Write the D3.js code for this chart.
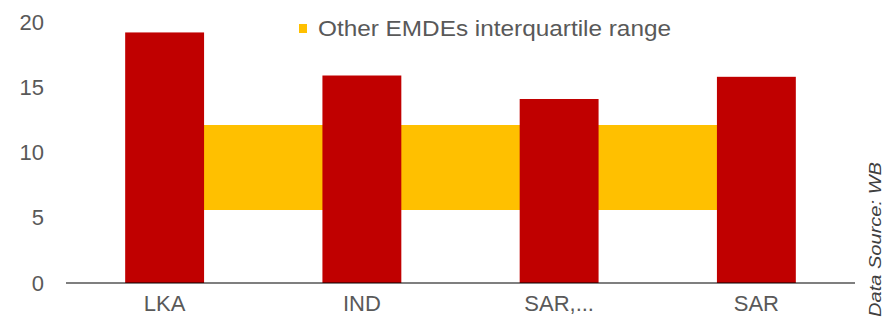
<!DOCTYPE html>
<html>
<head>
<meta charset="utf-8">
<script src="https://cdn.jsdelivr.net/npm/d3@7"></script>
<style>
  html, body { margin: 0; padding: 0; background: #fff; }
  svg { display: block; }
  text { font-family: "Liberation Sans", Arial, sans-serif; }
</style>
</head>
<body>
<svg id="chart" width="883" height="320"></svg>
<script>
const categories = ["LKA", "IND", "SAR,...", "SAR"];
const barValues = [19.2, 15.9, 14.1, 15.8];
const iqrLow = [5.6, 5.6, 5.6, 5.6];
const iqrHigh = [12.1, 12.1, 12.1, 12.1];
const yTicks = [0, 5, 10, 15, 20];
const legendLabel = "Other EMDEs interquartile range";
const sourceLabel = "Data Source: WB";

const svg = d3.select("#chart");
const W = 883, H = 320;
const margin = { left: 66, right: 28, top: 22, bottom: 37 };

const x = d3.scaleBand().domain(categories).range([margin.left, W - margin.right]).padding(0);
const y = d3.scaleLinear().domain([0, 20]).range([H - margin.bottom, margin.top]);
const barW = x.bandwidth() * 0.4;
const cx = c => x(c) + x.bandwidth() / 2;

// IQR band (area between category centres)
const area = d3.area()
  .x((d, i) => cx(categories[i]))
  .y0((d, i) => y(iqrLow[i]))
  .y1((d, i) => y(iqrHigh[i]));
svg.append("path")
  .datum(categories)
  .attr("d", area)
  .attr("fill", "#FFC000");

// bars
svg.append("g").selectAll("rect")
  .data(categories)
  .join("rect")
  .attr("x", c => cx(c) - barW / 2)
  .attr("width", barW)
  .attr("y", (c, i) => y(barValues[i]))
  .attr("height", (c, i) => y(0) - y(barValues[i]))
  .attr("fill", "#C00000");

// zero line
svg.append("line")
  .attr("x1", x.range()[0]).attr("x2", x.range()[1])
  .attr("y1", y(0)).attr("y2", y(0))
  .attr("stroke", "#000").attr("stroke-width", 1.2);

// y axis labels
const yAxis = svg.append("g")
  .attr("transform", "translate(44,0)")
  .call(d3.axisLeft(y).tickValues(yTicks).tickSize(0).tickPadding(0));
yAxis.select(".domain").remove();
yAxis.selectAll("text")
  .attr("fill", "#595959")
  .style("font-size", "22px")
  .style("font-family", "'Liberation Sans', Arial, sans-serif");

// x axis labels
const xAxis = svg.append("g")
  .attr("transform", `translate(0,${y(0)})`)
  .call(d3.axisBottom(x).tickSize(0).tickPadding(12));
xAxis.select(".domain").remove();
xAxis.selectAll("text")
  .attr("fill", "#595959")
  .style("font-size", "22px")
  .style("font-family", "'Liberation Sans', Arial, sans-serif");

// legend
const lg = svg.append("g").attr("transform", "translate(299,24)");
lg.append("rect").attr("width", 8).attr("height", 9).attr("fill", "#FFC000");
lg.append("text")
  .attr("x", 19).attr("y", 4.5)
  .attr("dy", "0.35em")
  .attr("fill", "#595959")
  .style("font-size", "22px")
  .attr("textLength", 353)
  .attr("lengthAdjust", "spacingAndGlyphs")
  .text(legendLabel);

// source note
svg.append("text")
  .attr("transform", "translate(881,317) rotate(-90)")
  .attr("fill", "#404040")
  .style("font-size", "16px")
  .style("font-style", "italic")
  .attr("textLength", 155)
  .attr("lengthAdjust", "spacingAndGlyphs")
  .text(sourceLabel);
</script>
</body>
</html>
